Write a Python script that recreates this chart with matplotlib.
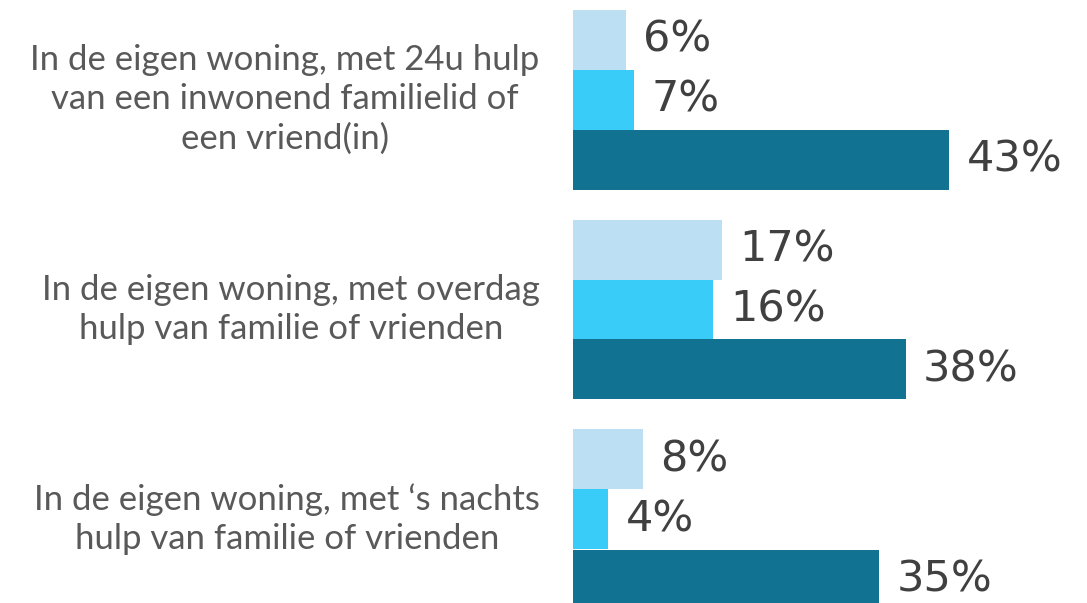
import matplotlib
matplotlib.use("Agg")
import matplotlib.pyplot as plt

categories = [
    "In de eigen woning, met 24u hulp\nvan een inwonend familielid of\neen vriend(in)",
    "In de eigen woning, met overdag\nhulp van familie of vrienden",
    "In de eigen woning, met \u2018s nachts\nhulp van familie of vrienden",
]
# three series per category, top to bottom
serie_licht = [6, 17, 8]
serie_midden = [7, 16, 4]
serie_donker = [43, 38, 35]

kleuren = ["#BDDFF4", "#3ACCF8", "#127291"]

fig = plt.figure(figsize=(10.87, 6.03), dpi=100)
ax = fig.add_axes([573 / 1087, 0, 514 / 1087, 1])

groep_afstand = 3.5
for i, cat in enumerate(categories):
    basis = i * groep_afstand
    for j, (serie, kleur) in enumerate(zip([serie_licht, serie_midden, serie_donker], kleuren)):
        v = serie[i]
        ax.barh(basis + j, v, height=1.0, color=kleur, edgecolor="none")
        ax.text(v + 2.0, basis + j, f"{v}%", va="center", ha="left",
                fontsize=31, color="#404040", family="DejaVu Sans")
    ax.text(-3.8, basis + 1, cat, ha="right", va="center", multialignment="center",
            fontsize=25, color="#595959", family="Lato", linespacing=1.27, clip_on=False)

ax.set_xlim(0, 514 / 8.75)
ax.set_ylim((603 - 39.5) / 60, -39.5 / 60)
ax.axis("off")

fig.savefig("out.png", dpi=100)
